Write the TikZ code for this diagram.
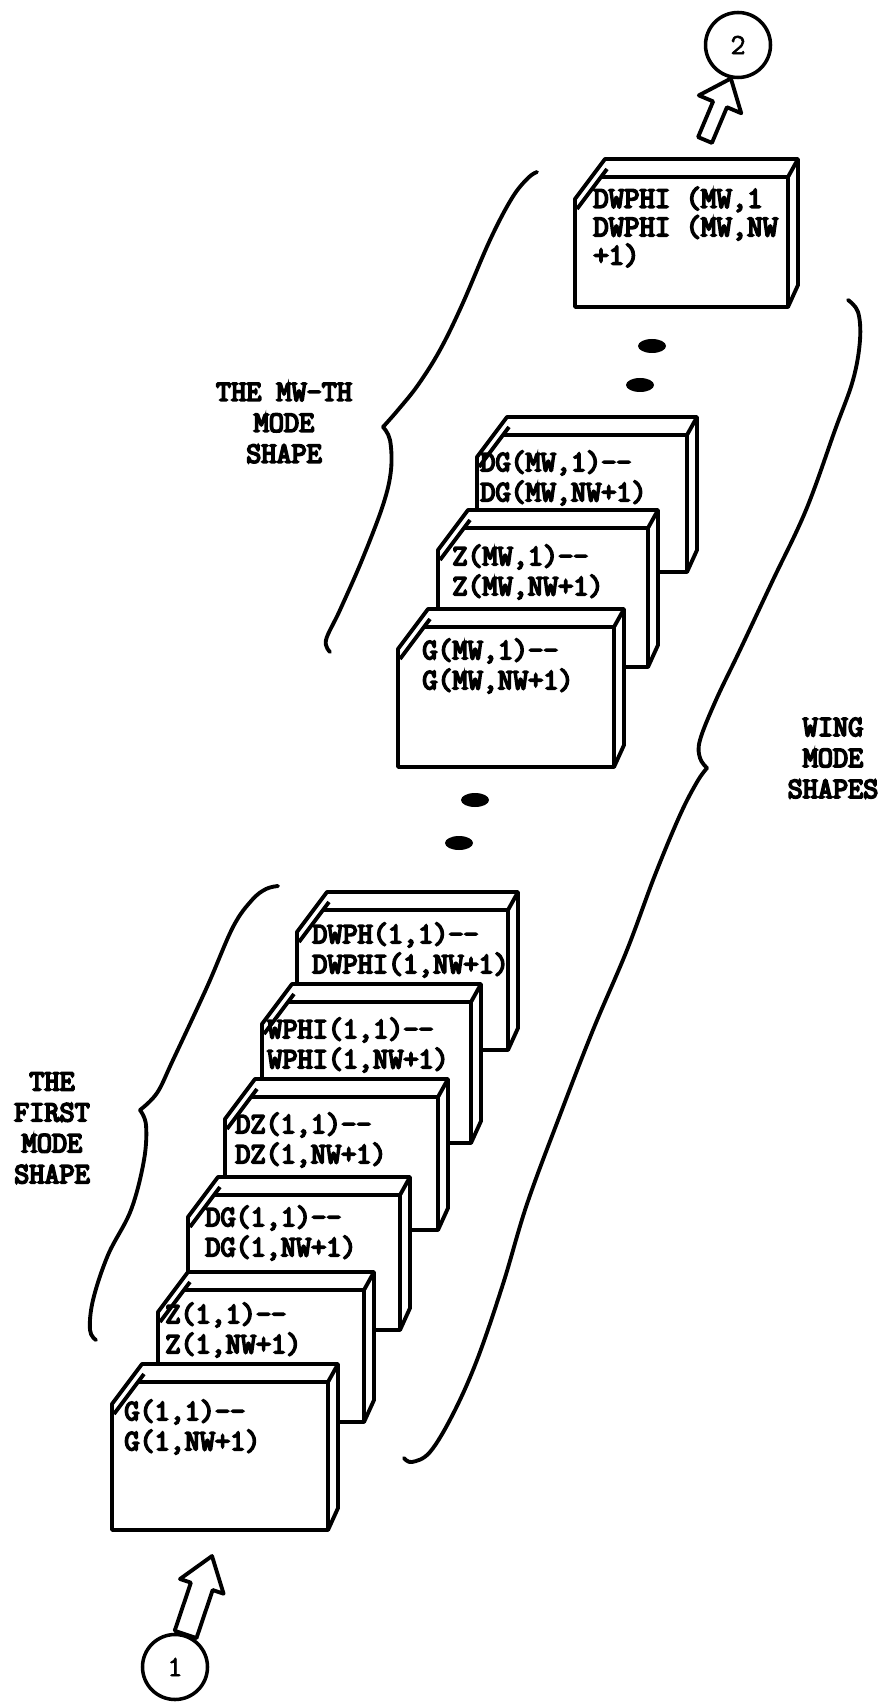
\documentclass[tikz,border=0pt]{standalone}
\usepackage{fontspec}
\newfontfamily\typewriter{Latin Modern Mono}[FakeBold=6]
\newfontfamily\typewriterlight{Latin Modern Mono}[FakeBold=2]
\usetikzlibrary{calc}

\tikzset{
  cardedge/.style={line width=2.2pt, line join=round},
  cardtext/.style={font=\typewriter\fontsize{16.7}{17.1}\selectfont,
                   align=left, anchor=west, inner sep=0pt},
  sidelabel/.style={font=\typewriter\fontsize{16.7}{17.6}\selectfont,
                    align=center, inner sep=0pt},
  bracestroke/.style={line width=2.2pt, line cap=round, line join=round},
  stepcircle/.style={circle, draw, line width=2pt, minimum size=13mm,
                     inner sep=0pt, font=\typewriterlight\fontsize{16.7}{17}\selectfont},
  fatarrow/.style={line width=2.2pt, line join=round, fill=white},
  modedot/.style={fill=black}
}

% one record card: left, top, right, bottom of the front face (pixels)
\newcommand{\modecard}[4]{%
  \filldraw[cardedge, fill=white] (#1,#2+22) -- (#1+30,#2-18) -- (#3+10,#2-18)
      -- (#3+10,#4-22) -- (#3,#4) -- (#1,#4) -- cycle;
  \draw[cardedge] (#1+26,#2) -- (#3,#2) -- (#3,#4)
      (#3,#2) -- (#3+10,#2-18)
      (#1+2,#2+32) -- (#1+32,#2-8);
}

% hollow block arrow: start, end, half shaft, half head, head length
\newcommand{\fatarrowfrom}[5]{%
  \coordinate (fah) at ($(#2)!#5!(#1)$);
  \filldraw[fatarrow] ($(#1)!#3!90:(#2)$) -- ($(fah)!#3!-90:(#1)$)
      -- ($(fah)!#4!-90:(#1)$) -- (#2) -- ($(fah)!#4!90:(#1)$)
      -- ($(fah)!#3!90:(#1)$) -- ($(#1)!#3!-90:(#2)$) -- cycle;
}

\begin{document}
\begin{tikzpicture}[x=0.2mm, y=-0.2mm]
    \useasboundingbox (0,0) rectangle (882,1703);

    % the MW-th mode shape
    \modecard{575}{177}{788}{307}
    \node[cardtext, font=\typewriter\fontsize{17}{16.2}\selectfont]
        (dwphimw) at (593,227) {DWPHI (MW,1\\DWPHI (MW,NW\\+1)};

    \fill[modedot] (652,346) ellipse [x radius=2.8mm, y radius=1.4mm];
    \fill[modedot] (640,385) ellipse [x radius=2.8mm, y radius=1.4mm];

    \modecard{477}{435}{687}{572}
    \node[cardtext] (dgmw) at (480,478) {DG(MW,1)--\\DG(MW,NW+1)};

    \modecard{438}{528}{648}{667}
    \node[cardtext] (zmw) at (452,572) {Z(MW,1)--\\Z(MW,NW+1)};

    \modecard{398}{627}{614}{767}
    \node[cardtext] (gmw) at (422,666) {G(MW,1)--\\G(MW,NW+1)};

    \fill[modedot] (475,800) ellipse [x radius=2.8mm, y radius=1.4mm];
    \fill[modedot] (459,843) ellipse [x radius=2.8mm, y radius=1.4mm];

    % the first mode shape
    \modecard{297}{910}{508}{1050}
    \node[cardtext] (dwph) at (312,950) {DWPH(1,1)--\\DWPHI(1,NW+1)};

    \modecard{262}{1002}{471}{1143}
    \node[cardtext] (wphi) at (267,1045) {WPHI(1,1)--\\WPHI(1,NW+1)};

    \modecard{225}{1097}{438}{1230}
    \node[cardtext] (dz) at (235,1140) {DZ(1,1)--\\DZ(1,NW+1)};

    \modecard{188}{1195}{400}{1330}
    \node[cardtext] (dg) at (205,1233) {DG(1,1)--\\DG(1,NW+1)};

    \modecard{158}{1290}{364}{1422}
    \node[cardtext] (z) at (165,1330) {Z(1,1)--\\Z(1,NW+1)};

    \modecard{112}{1382}{328}{1530}
    \node[cardtext] (g) at (124,1427) {G(1,1)--\\G(1,NW+1)};

    % entry and exit
    \node[stepcircle] (c1) at (175,1667) {1};
    \node[stepcircle] (c2) at (738,45) {2};

    \coordinate (a1s) at (c1.72);
    \coordinate (a1e) at (212,1556);
    \fatarrowfrom{a1s}{a1e}{2.3mm}{4.6mm}{6.4mm}

    \coordinate (a2s) at (705,140);
    \coordinate (a2e) at (c2.-102);
    \fatarrowfrom{a2s}{a2e}{1.5mm}{4.6mm}{5.6mm}

    % braces
    \draw[bracestroke] plot[smooth, tension=0.6] coordinates {(537,172) (528,178)
        (512,198) (490,240) (462,305) (440,350) (418,385) (398,410) (383,427)};
    \draw[bracestroke] plot[smooth, tension=0.6] coordinates {(383,427) (390,440)
        (391,470) (383,505) (362,560) (340,610) (326,640) (330,652)};
    \node[sidelabel] (mwlabel) at (284,423) {THE MW-TH\\MODE\\SHAPE};

    \draw[bracestroke] plot[smooth, tension=0.6] coordinates {(278,886) (266,889)
        (252,900) (233,927) (207,987) (173,1060) (157,1093) (140,1110)};
    \draw[bracestroke] plot[smooth, tension=0.6] coordinates {(140,1110) (146,1125)
        (144,1160) (131,1210) (108,1255) (93,1300) (90,1330) (96,1340)};
    \node[sidelabel] (firstlabel) at (52,1128) {THE\\FIRST\\MODE\\SHAPE};

    \draw[bracestroke] plot[smooth, tension=0.6] coordinates {(848,300) (858,312)
        (860,340) (853,380) (835,430) (806,510) (772,582) (740,650) (716,700)
        (700,740) (700,758) (707,768)};
    \draw[bracestroke] plot[smooth, tension=0.6] coordinates {(707,768) (697,782)
        (680,815) (655,875) (627,950) (593,1030) (560,1115) (527,1204)
        (503,1284) (477,1360) (453,1414) (430,1452) (412,1462) (404,1458)};
    \node[sidelabel] (winglabel) at (833,758) {WING\\MODE\\SHAPES};

\end{tikzpicture}
\end{document}
